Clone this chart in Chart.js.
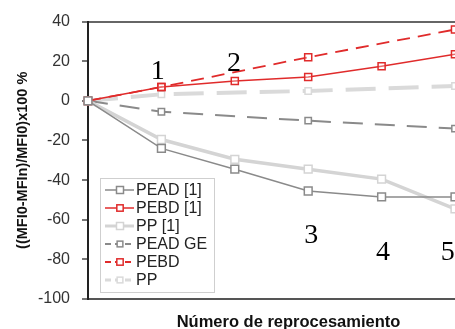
<!DOCTYPE html>
<html>
<head>
<meta charset="utf-8">
<script src="https://cdn.jsdelivr.net/npm/chart.js@4/dist/chart.umd.min.js"></script>
<style>
  html, body { margin: 0; padding: 0; background: #fff; }
  #wrap { width: 455px; height: 329px; position: relative; }
</style>
</head>
<body>
<div id="wrap"><canvas id="c" width="455" height="329"></canvas></div>
<script>
// ---- data ----
const steps = [0, 1, 2, 3, 4, 5];
const stepsGE = [0, 1, 3, 5];
const peadRef = [0, -24, -34.5, -45.5, -48.5, -48.5];
const pebdRef = [0, 7, 10, 12, 17.5, 23.5];
const ppRef = [0, -19.5, -29.5, -34.5, -39.5, -54.5];
const peadGE = [0, -5.5, -10, -14];
const pebdGE = [0, 7, 22, 36];
const ppGE = [0, 3.3, 5, 7.5];
const seriesLabels = ['PEAD [1]', 'PEBD [1]', 'PP [1]', 'PEAD GE', 'PEBD', 'PP'];
const stepLabels = ['1', '2', '3', '4', '5'];
const yTicks = [40, 20, 0, -20, -40, -60, -80, -100];
const yTitle = '((MFI0-MFIn)/MFI0)x100 %';
const xTitle = 'Número de reprocesamiento';

const toPts = (xs, ys) => xs.map((x, i) => ({ x: x, y: ys[i] }));

const GRAY = '#8a8a8a', RED = '#e02b2b', LIGHT = '#d4d4d4', LIGHT2 = '#dadada';

function ds(label, xs, ys, color, width, dash, fill, r) {
  return {
    label: label,
    data: toPts(xs, ys),
    borderColor: color,
    borderWidth: width,
    borderDash: dash,
    pointStyle: 'rect',
    pointRadius: r,
    pointBorderWidth: 1.5,
    pointBorderColor: color,
    pointBackgroundColor: fill,
    tension: 0,
    clip: false
  };
}

const datasets = [
  ds(seriesLabels[0], steps, peadRef, GRAY, 1.5, [], '#fff', 5.5),
  ds(seriesLabels[1], steps, pebdRef, RED, 1.5, [], 'rgba(255,255,255,0.3)', 5),
  ds(seriesLabels[2], steps, ppRef, LIGHT, 3.5, [], '#fff', 5.5),
  ds(seriesLabels[3], stepsGE, peadGE, GRAY, 2, [20, 12], '#fff', 4.5),
  ds(seriesLabels[4], stepsGE, pebdGE, RED, 1.8, [13, 8], 'rgba(255,255,255,0.3)', 5),
  ds(seriesLabels[5], stepsGE, ppGE, LIGHT2, 4, [30, 13], '#fff', 4.5)
];

const annotationPos = [[0.95, 14.6], [1.99, 19], [3.04, -68], [4.02, -76.6], [4.9, -76.6]];

const extras = {
  id: 'extras',
  afterDatasetsDraw(chart) {
    const ctx = chart.ctx, xs = chart.scales.x, ys = chart.scales.y;
    ctx.save();
    ctx.font = '28px "Liberation Serif", "Times New Roman", serif';
    ctx.fillStyle = '#000';
    ctx.textAlign = 'center';
    ctx.textBaseline = 'middle';
    stepLabels.forEach((t, i) => {
      const p = annotationPos[i];
      ctx.fillText(t, xs.getPixelForValue(p[0]), ys.getPixelForValue(p[1]));
    });
    ctx.restore();
  },
  afterDraw(chart) {
    const ctx = chart.ctx, ca = chart.chartArea;
    ctx.save();
    // x title
    ctx.font = 'bold 16.5px "Liberation Sans", Arial, sans-serif';
    ctx.fillStyle = '#111';
    ctx.textAlign = 'center';
    ctx.textBaseline = 'alphabetic';
    ctx.fillText(xTitle, (ca.left + ca.right) / 2 + 17, 327);
    // legend
    const x0 = ca.left + 12, y1 = ca.bottom - 7, w = 114, h = 114, y0 = y1 - h;
    ctx.fillStyle = '#fff';
    ctx.fillRect(x0, y0, w, h);
    ctx.strokeStyle = '#cfcfcf';
    ctx.lineWidth = 1;
    ctx.setLineDash([]);
    ctx.strokeRect(x0 + 0.5, y0 + 0.5, w, h);
    chart.data.datasets.forEach((d, i) => {
      const cy = y0 + 12 + i * 18;
      ctx.save();
      ctx.strokeStyle = d.borderColor;
      ctx.lineWidth = Math.min(d.borderWidth, 3);
      ctx.setLineDash(d.borderDash && d.borderDash.length ? [6, 4] : []);
      ctx.beginPath();
      ctx.moveTo(x0 + 5, cy);
      ctx.lineTo(x0 + 34, cy);
      ctx.stroke();
      ctx.setLineDash([]);
      const s = d.pointRadius * Math.SQRT1_2 * 0.9;
      ctx.fillStyle = '#fff';
      ctx.fillRect(x0 + 20 - s, cy - s, 2 * s, 2 * s);
      ctx.lineWidth = 1.5;
      ctx.strokeRect(x0 + 20 - s, cy - s, 2 * s, 2 * s);
      ctx.restore();
      ctx.font = '16px "Liberation Sans", Arial, sans-serif';
      ctx.fillStyle = '#222';
      ctx.textAlign = 'left';
      ctx.textBaseline = 'middle';
      ctx.fillText(d.label, x0 + 36, cy + 1);
    });
    ctx.restore();
  }
};

new Chart(document.getElementById('c'), {
  type: 'line',
  data: { datasets: datasets },
  options: {
    responsive: false,
    animation: false,
    devicePixelRatio: 1,
    layout: { autoPadding: false, padding: { top: 18, right: 0, left: 0, bottom: 0 } },
    plugins: { legend: { display: false }, tooltip: { enabled: false } },
    scales: {
      x: {
        type: 'linear',
        min: 0,
        max: 5,
        ticks: { display: false },
        grid: { display: false },
        border: { display: true, color: '#555', width: 2 },
        afterFit: (s) => { s.height = 30; }
      },
      y: {
        min: -100,
        max: 40,
        afterBuildTicks: (s) => { s.ticks = yTicks.map(v => ({ value: v })); },
        ticks: {
          font: { family: '"Liberation Sans", Arial, sans-serif', size: 16 },
          color: '#333',
          padding: 12
        },
        grid: {
          drawOnChartArea: true,
          drawTicks: true,
          tickLength: 6,
          tickColor: '#777',
          lineWidth: 2,
          color: (c) => (c.tick && c.tick.value === 40 ? '#666' : 'rgba(0,0,0,0)')
        },
        border: { display: true, color: '#222', width: 2 },
        title: {
          display: true,
          text: yTitle,
          font: { family: '"Liberation Sans", Arial, sans-serif', size: 14.5, weight: 'bold' },
          color: '#111',
          padding: { top: 14, bottom: 0 }
        },
        afterFit: (s) => { s.width = 88; }
      }
    }
  },
  plugins: [extras]
});
</script>
</body>
</html>
